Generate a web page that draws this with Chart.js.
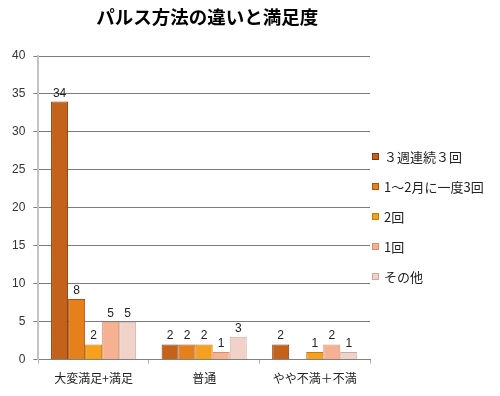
<!DOCTYPE html>
<html>
<head>
<meta charset="utf-8">
<script src="https://cdn.jsdelivr.net/npm/chart.js@4"></script>
<style>
html,body{margin:0;padding:0;background:#fff;}
#wrap{position:relative;width:500px;height:396px;}
</style>
</head>
<body>
<div id="wrap"><canvas id="c" width="500" height="396"></canvas></div>
<script>
const chartTitle = 'パルス方法の違いと満足度';
const categories = ['大変満足+満足', '普通', 'やや不満＋不満'];
const seriesNames = ['３週連続３回', '1～2月に一度3回', '2回', '1回', 'その他'];
const s1 = [34, 2, 2];
const s2 = [8, 2, 0];
const s3 = [2, 2, 1];
const s4 = [5, 1, 2];
const s5 = [5, 3, 1];
const yMin = 0, yMax = 40, yStep = 5;

const fills = ['#c4621c', '#e5801d', '#f6a11e', '#f5b191', '#f1d2c9'];
const borders = ['#7e3a0c', '#a65510', '#c07a10', '#d7906e', '#c9aaa2'];
const seriesValues = [s1, s2, s3, s4, s5];

const JP = "'Liberation Sans','Noto Sans CJK JP',sans-serif";
Chart.defaults.font.family = JP;
Chart.defaults.color = '#222';

const titlePlugin = {
  id: 'titleDraw',
  afterDraw(chart) {
    const {ctx, chartArea} = chart;
    ctx.save();
    ctx.font = "bold 18.5px 'Noto Sans CJK JP', sans-serif";
    ctx.fillStyle = '#000';
    ctx.textAlign = 'center';
    ctx.textBaseline = 'middle';
    ctx.fillText(chartTitle, (chartArea.left + chartArea.right) / 2 + 3, 17);
    ctx.restore();
  }
};

const valueLabels = {
  id: 'valueLabels',
  afterDatasetsDraw(chart) {
    const {ctx} = chart;
    ctx.save();
    ctx.font = "12px " + JP;
    ctx.fillStyle = '#222';
    ctx.textAlign = 'center';
    ctx.textBaseline = 'alphabetic';
    chart.data.datasets.forEach((ds, di) => {
      const meta = chart.getDatasetMeta(di);
      meta.data.forEach((bar, i) => {
        const v = ds.data[i];
        if (!v) return;
        ctx.fillText(String(v), bar.x, bar.y - 5);
      });
    });
    ctx.restore();
  }
};

const legendDraw = {
  id: 'legendDraw',
  afterDraw(chart) {
    const {ctx} = chart;
    ctx.save();
    ctx.font = "13px 'Noto Sans CJK JP', sans-serif";
    ctx.textBaseline = 'middle';
    ctx.textAlign = 'left';
    chart.data.datasets.forEach((ds, i) => {
      const y = 157 + i * 30;
      ctx.fillStyle = ds.backgroundColor;
      ctx.fillRect(372, y - 4, 7, 7);
      ctx.strokeStyle = ds.borderColor;
      ctx.lineWidth = 1;
      ctx.strokeRect(372.5, y - 3.5, 6, 6);
      ctx.fillStyle = '#222';
      ctx.fillText(ds.label, 384, y);
    });
    ctx.restore();
  }
};

new Chart(document.getElementById('c'), {
  type: 'bar',
  data: {
    labels: categories,
    datasets: seriesNames.map((n, i) => ({
      label: n,
      data: seriesValues[i],
      backgroundColor: fills[i],
      borderColor: borders[i],
      borderWidth: 1,
      categoryPercentage: 0.77,
      barPercentage: 1.0
    }))
  },
  options: {
    responsive: false,
    animation: false,
    layout: {padding: {top: 56, right: 130, left: 4, bottom: 2}},
    plugins: {legend: {display: false}, title: {display: false}, tooltip: {enabled: false}},
    scales: {
      x: {
        grid: {display: true, drawOnChartArea: false, drawTicks: true, tickLength: 4, color: '#b0b0b0', offset: true},
        border: {display: true, color: '#808080', width: 1},
        ticks: {font: {size: 12, family: "'Noto Sans CJK JP', sans-serif"}, color: '#222', padding: 8}
      },
      y: {
        min: yMin, max: yMax,
        grid: {display: true, drawOnChartArea: true, color: '#7c7c7c', tickLength: 5, lineWidth: 1},
        border: {display: true, color: '#c4c4c4', width: 2},
        ticks: {stepSize: yStep, font: {size: 12}, color: '#333', padding: 8}
      }
    }
  },
  plugins: [titlePlugin, valueLabels, legendDraw]
});
</script>
</body>
</html>
